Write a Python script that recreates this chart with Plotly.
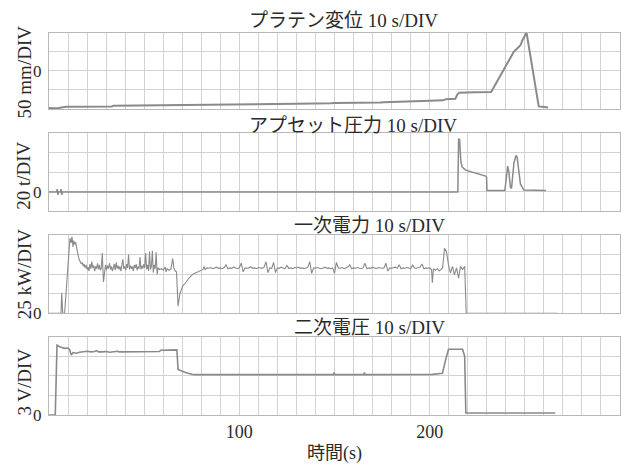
import plotly.graph_objects as go

# ---------------- data (time in s, values in physical units) ----------------
# Panel 1: platen displacement (mm), 50 mm/DIV
t1 = [0, 1, 2, 3, 5, 7, 9, 10, 33, 34, 64, 65, 92, 93, 128, 130, 148, 150, 174, 176,
      200, 207, 208.5, 213.5, 214.5, 215.5, 224, 232.3, 238, 244.2, 247.7, 248.6, 250.9,
      257.3, 259, 262.2]
d1 = [-97, -98, -97, -98, -97, -95, -94, -94, -93, -91, -90, -89, -89, -88, -87, -86,
      -85, -84, -83, -82, -78, -77, -74, -73, -62, -57, -56, -55, -5, 50, 67, 79, 100,
      -93, -94, -96]

# Panel 2: upset pressure (t), 20 t/DIV
t2 = [0, 4, 4.3, 4.7, 5, 6, 6.3, 6.7, 7, 214.8, 215.2, 215.7, 216.4, 217.1, 218.9,
      222.3, 225.8, 229.4, 229.9, 230.1, 239.5, 240.2, 241.0, 241.6, 242.4, 243.0,
      243.6, 244.3, 245.4, 246.0, 246.8, 247.7, 249.5, 261.1]
d2 = [0, 0, 3, -3, 0, 0, 3, -3, 0, 0, 54, 54, 31, 25.5, 22.4, 20.4, 18.7, 16.3, 15,
      1.5, 1.5, 15, 26.4, 21, 5, 3.5, 18, 30, 37.5, 35, 22, 8, 2, 1.5]

# Panel 3: primary power (kW), 25 kW/DIV
t3a = [0, 6.3, 6.7, 7.2, 8.2, 9.2, 10.5, 11.0, 11.6, 12.1, 12.6, 13.0, 13.5, 14.0,
       14.5, 15.0, 15.5, 16.0, 16.5, 17.0, 17.5, 18.0, 18.5, 19.0, 19.5, 20.0, 20.5,
       21.0, 21.5, 22.0, 22.5, 23.0, 23.5, 24.0, 24.5, 25.0, 25.5, 26.0, 26.5, 27.0,
       27.5, 28.0, 28.6, 29.2, 29.7, 30.2, 30.7, 31.2, 31.8, 32.3, 32.8, 33.3, 33.8,
       34.3, 34.8, 35.3, 35.8, 36.3, 36.8, 37.3, 37.8, 38.3, 38.8, 39.3, 39.8, 40.3,
       40.8, 41.3, 41.8, 42.3, 42.8, 43.3, 43.8, 44.3, 44.8, 45.3, 45.8, 46.3, 46.8,
       47.3, 47.8, 48.3, 48.8, 49.3, 49.8, 50.3, 50.8, 51.3, 51.8, 52.3, 52.8, 53.3,
       53.8, 54.3, 54.8, 55.3, 55.8, 56.3, 56.8, 57.3, 58.0, 59.0, 60.0, 61.0, 61.5,
       62.0, 63.0, 64.0, 65.0, 65.6, 66.3, 67.0, 67.8, 68.8, 70.3, 71.8, 73.5, 75.6,
       78.8, 80.9, 81.5, 82.0]
p3a = [0, 0, 26, 0, 0, 35, 88, 96, 90, 98, 85, 93, 88, 91, 84, 76, 72, 68, 66, 63,
       65, 60, 63, 58, 62, 56, 59, 54, 63, 57, 66, 58, 61, 54, 60, 57, 64, 56, 62, 55,
       58, 77, 40, 57, 62, 55, 61, 57, 64, 56, 60, 54, 59, 63, 55, 65, 57, 61, 56, 60,
       54, 62, 69, 57, 60, 55, 63, 58, 75, 56, 61, 57, 60, 54, 62, 58, 63, 55, 60, 57,
       72, 56, 61, 57, 63, 58, 77, 56, 62, 54, 79, 56, 60, 80, 52, 62, 57, 78, 50, 58,
       56, 57, 55, 59, 53, 57, 55, 56, 70, 58, 54, 53, 9, 25, 35, 39, 45, 50, 54, 56,
       60, 56]
t3b_start = 83
p3b = [58, 57.5, 58.5, 57, 58, 59, 57.5, 58, 57, 58.5, 62, 57, 58, 57.5, 59, 58, 57,
       58.5, 64, 53, 58, 57.5, 58, 59.5, 57.5, 58, 57, 58.5, 58, 57.5, 59, 66, 52, 58,
       57.5, 65, 52, 58, 57.5, 59, 58, 57, 61, 57.5, 58, 57, 58.5, 58, 59, 57.5, 58, 57,
       58, 59, 66, 51, 58, 57.5, 58.5, 58, 57, 58, 59, 57.5, 58, 57, 58, 51, 65, 58,
       57.5, 58.5, 57, 58, 59, 62, 57, 58, 57.5, 58.5, 58, 57, 58, 64, 57, 58, 57.5, 59,
       58, 57, 58.5, 58, 57.5, 58, 64, 54, 58, 57.5, 58, 59, 57.5, 62, 57, 58, 57.5,
       58.5, 58, 57, 62, 58, 57.5, 58, 59, 63, 57, 58, 57.5, 58, 56]
t3c = [201.4, 202, 203, 204, 205, 206, 206.8, 207.8, 208.8, 209.9, 210.9, 212, 213,
       214.1, 215.2, 216.2, 217.3, 218.4, 219.2, 267]
p3c = [39, 57, 55, 57, 54, 56, 58, 83, 79, 62, 51.5, 60, 49, 58, 45, 60, 56, 60, 0, 0]

# Panel 4: secondary voltage (V), 3 V/DIV
t4 = [0, 3.3, 4.2, 5.6, 8.2, 10.0, 10.9, 11.7, 12.6, 14.4, 16, 18, 20, 22, 24, 25, 26,
      28, 30, 32, 34, 36, 37, 40, 42, 44, 46, 48, 50, 52, 54, 56, 58, 58.7, 62, 64,
      67.2, 67.8, 70, 72, 74.6, 76, 149.5, 149.8, 150.1, 165.4, 165.7, 166, 201.4,
      206.7, 208.4, 209.9, 217.3, 218.4, 219, 266]
v4 = [0, 0, 10.74, 10.5, 10.24, 10.3, 10.0, 9.2, 9.6, 9.5, 9.65, 9.7, 9.8, 9.7, 9.75,
      9.9, 9.7, 9.7, 9.75, 9.65, 9.7, 9.8, 9.7, 9.7, 9.75, 9.7, 9.7, 9.75, 9.7, 9.7,
      9.75, 9.7, 9.75, 9.95, 10.0, 9.95, 10.0, 7.0, 6.7, 6.5, 6.3, 6.2, 6.2, 6.55, 6.2,
      6.2, 6.55, 6.2, 6.25, 6.4, 8.5, 10.1, 10.1, 9.0, 0.3, 0.3]

x_ticks = list(range(0, 301, 10))
x_labels = {100: "100", 200: "200"}

panels = [
    dict(t=t1, v=d1, rng=[-100, 100], dtick=50, title="プラテン変位 10 s/DIV",
         ylab="50 mm/DIV", width=2.0),
    dict(t=t2, v=d2, rng=[-20, 60], dtick=20, title="アプセット圧力 10 s/DIV",
         ylab="20 t/DIV", width=1.5),
    dict(t=t3a + [t3b_start + i for i in range(len(p3b))] + t3c, v=p3a + p3b + p3c,
         rng=[0, 100], dtick=25, title="一次電力 10 s/DIV", ylab="25 kW/DIV", width=1.1),
    dict(t=t4, v=v4, rng=[0, 12], dtick=3, title="二次電圧 10 s/DIV",
         ylab="3 V/DIV", width=1.6),
]

# ---------------- layout geometry (pixels) ----------------
W, H = 628, 466
L, R, T, B = 49, 7, 32, 45
PW, PH = W - L - R, H - T - B
panel_px = [(32.7, 110.3), (135, 214.3), (238.3, 317.6), (341.7, 421)]
title_px = [(344, 20.5), (354, 126.7), (370, 228.3), (370, 331.7)]
ylab_px = [(24, 73), (24, 178), (24, 278), (24, 388)]


def px_x(px):
    return (px - L) / PW


def px_y(py):
    return (H - B - py) / PH


def clamp(v):
    return min(1.0, max(0.0, v))


FONT = "Liberation Serif, 'Noto Sans CJK JP', serif"
TXT = "#2a2a2a"
LINE = "#8a8a8a"
GRID = "#d2d2d2"
BORDER = "#b8b8b8"

fig = go.Figure()
annotations = []
layout = dict(width=W, height=H, margin=dict(l=L, r=R, t=T, b=B, pad=0),
              paper_bgcolor="white", plot_bgcolor="white", showlegend=False,
              font=dict(family=FONT, size=16, color=TXT))

for i, p in enumerate(panels):
    n = i + 1
    xa = "x" if n == 1 else f"x{n}"
    ya = "y" if n == 1 else f"y{n}"
    fig.add_trace(go.Scatter(x=p["t"], y=p["v"], mode="lines", xaxis=xa, yaxis=ya,
                             line=dict(color=LINE, width=p["width"]),
                             hoverinfo="skip"))
    top, bot = panel_px[i]
    xkey = "xaxis" if n == 1 else f"xaxis{n}"
    ykey = "yaxis" if n == 1 else f"yaxis{n}"
    last = (n == 4)
    layout[xkey] = dict(
        range=[0, 300], anchor=ya, domain=[0, 1],
        tickmode="array", tickvals=x_ticks,
        ticktext=[x_labels.get(v, "") for v in x_ticks],
        showticklabels=last, ticks="", showgrid=True, gridcolor=GRID, gridwidth=1,
        zeroline=False, showline=True, mirror=True, linecolor=BORDER, linewidth=1,
        tickfont=dict(size=18, family=FONT, color=TXT),
        title=dict(text="時間(s)" if last else "",
                   font=dict(size=18, family=FONT, color=TXT), standoff=5),
        fixedrange=True,
    )
    if n > 1:
        layout[xkey]["matches"] = "x"
    lo, hi = p["rng"]
    yt = [lo + k * p["dtick"] for k in range(int(round((hi - lo) / p["dtick"])) + 1)]
    layout[ykey] = dict(
        range=[lo, hi], anchor=xa, domain=[clamp(px_y(bot)), clamp(px_y(top))],
        tickmode="array", tickvals=yt, ticktext=["0" if v == 0 else "" for v in yt],
        ticks="", showgrid=True, gridcolor=GRID, gridwidth=1, zeroline=False,
        showline=True, mirror=True, linecolor=BORDER, linewidth=1,
        tickfont=dict(size=17, family=FONT, color=TXT), ticklabelstandoff=3,
        fixedrange=True,
    )
    tx, ty = title_px[i]
    annotations.append(dict(text=p["title"], x=px_x(tx), y=px_y(ty), xref="paper",
                            yref="paper", showarrow=False, xanchor="center",
                            yanchor="middle",
                            font=dict(size=19, family=FONT, color=TXT)))
    lx, ly = ylab_px[i]
    annotations.append(dict(text=p["ylab"], x=px_x(lx), y=px_y(ly), xref="paper",
                            yref="paper", showarrow=False, textangle=-90,
                            xanchor="center", yanchor="middle",
                            font=dict(size=19, family=FONT, color=TXT)))

layout["annotations"] = annotations
fig.update_layout(**layout)
fig.write_html("out.html")
